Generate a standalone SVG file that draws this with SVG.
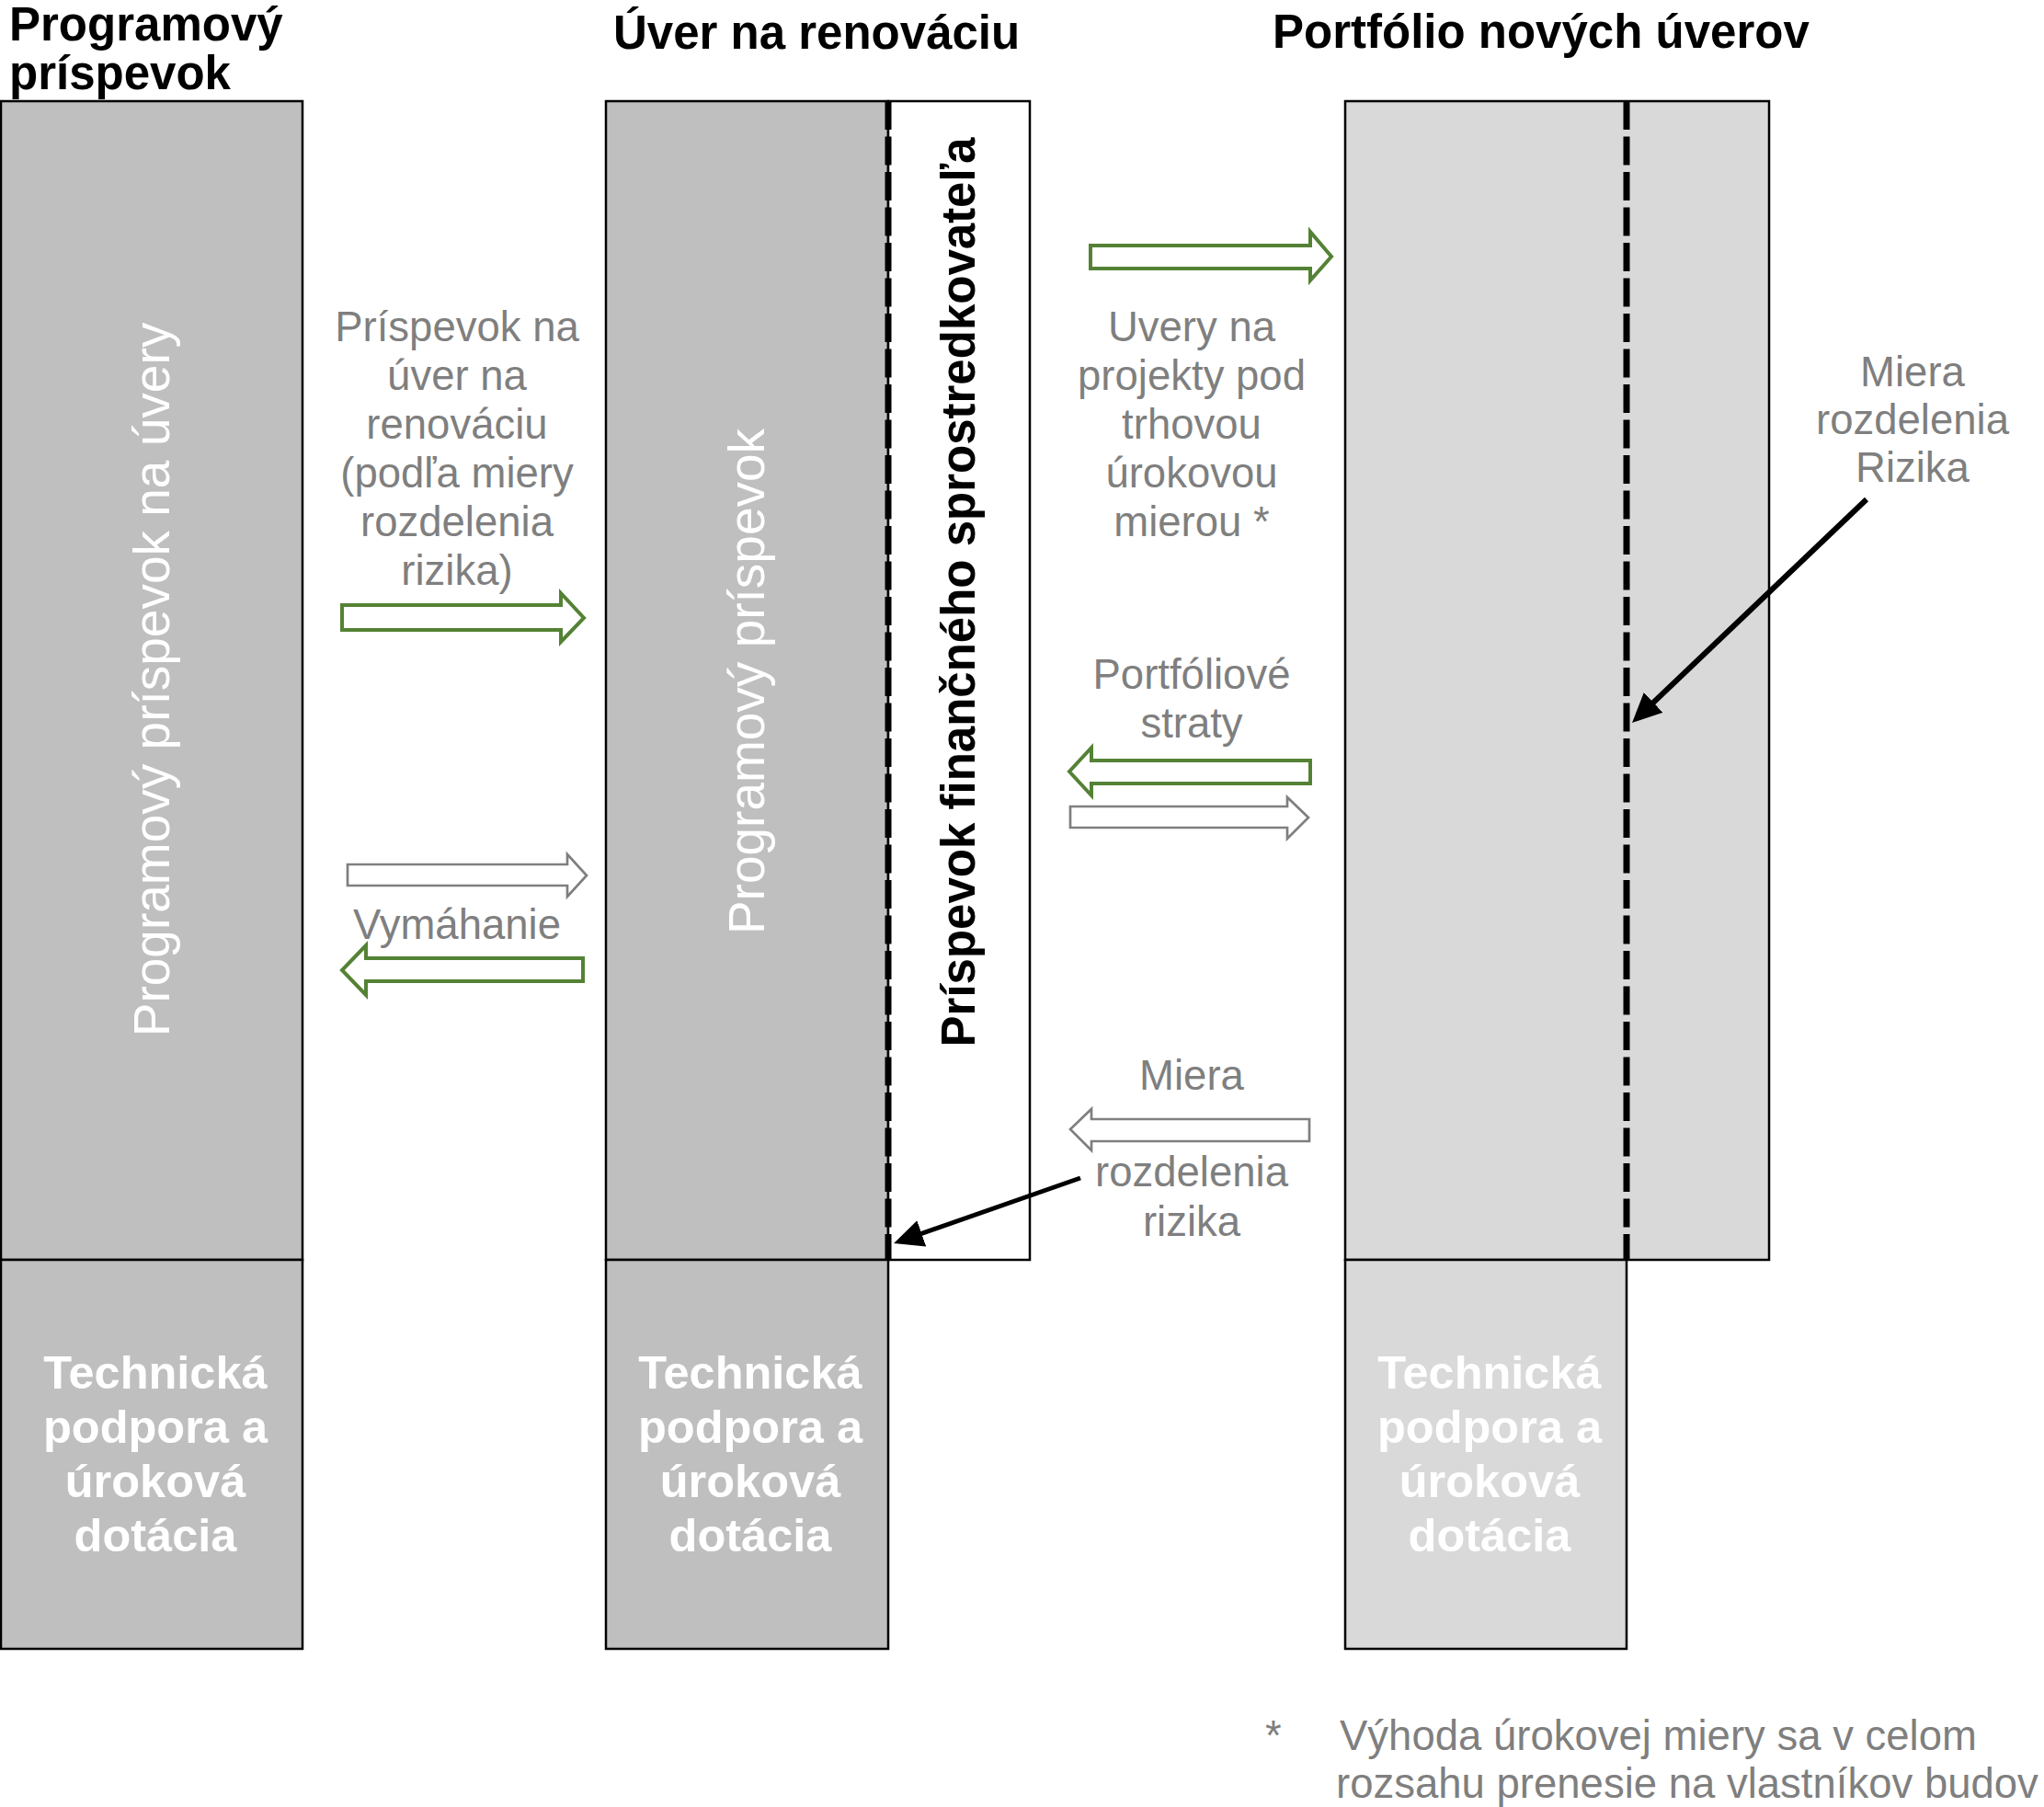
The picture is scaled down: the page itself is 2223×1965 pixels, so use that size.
<svg xmlns="http://www.w3.org/2000/svg" width="2223" height="1965" viewBox="0 0 2223 1965">
<style>
  .title{font-family:"Liberation Sans",Arial,sans-serif;font-weight:bold;font-size:51px;fill:#000}
  .lbl{font-family:"Liberation Sans",Arial,sans-serif;font-size:45.5px;fill:#7F7F7F;text-anchor:middle}
  .vwhite{font-family:"Liberation Sans",Arial,sans-serif;font-size:55px;fill:#fff;text-anchor:middle}
  .vbold{font-family:"Liberation Sans",Arial,sans-serif;font-size:51px;font-weight:bold;fill:#000;text-anchor:middle}
  .tech{font-family:"Liberation Sans",Arial,sans-serif;font-size:50.5px;font-weight:bold;fill:#fff;text-anchor:middle}
  .note{font-family:"Liberation Sans",Arial,sans-serif;font-size:45.5px;fill:#7F7F7F}
  .dark{fill:#BFBFBF;stroke:#000;stroke-width:2.5}
  .light{fill:#D9D9D9;stroke:#000;stroke-width:2.5}
  .white{fill:#fff;stroke:#000;stroke-width:2.5}
  .dash{stroke:#000;stroke-width:7;stroke-dasharray:31 7.5;fill:none}
  .garrow{fill:#fff;stroke:#548235;stroke-width:4}
  .gyarrow{fill:#fff;stroke:#7F7F7F;stroke-width:2.7}
  .pointer{stroke:#000;fill:none}
</style>
<defs>
  <marker id="head" markerUnits="userSpaceOnUse" markerWidth="32" markerHeight="30" refX="12" refY="15" orient="auto">
    <path d="M0,0 L32,15 L0,30 Z" fill="#000"/>
  </marker>
</defs>
<rect width="2223" height="1965" fill="#fff"/>

<g id="title-programovy">
  <text class="title" x="10" y="44">Programový</text>
  <text class="title" x="10" y="97">príspevok</text>
</g>
<g id="title-uver">
  <text class="title" x="667" y="53">Úver na renováciu</text>
</g>
<g id="title-portfolio">
  <text class="title" x="1384" y="52">Portfólio nových úverov</text>
</g>

<g id="node-left-top">
  <rect class="dark" x="1" y="110" width="328" height="1260"/>
  <text class="vwhite" transform="translate(184,739) rotate(-90)">Programový príspevok na úvery</text>
</g>
<g id="node-left-bottom">
  <rect class="dark" x="1" y="1370" width="328" height="423"/>
  <text class="tech" x="169" y="1510">Technická</text>
  <text class="tech" x="169" y="1569">podpora a</text>
  <text class="tech" x="169" y="1628">úroková</text>
  <text class="tech" x="169" y="1687">dotácia</text>
</g>

<g id="node-mid-top">
  <rect class="dark" x="659" y="110" width="307" height="1260"/>
  <text class="vwhite" transform="translate(831,741) rotate(-90)">Programový príspevok</text>
</g>
<g id="node-mid-intermediary">
  <rect class="white" x="966" y="110" width="154" height="1260"/>
  <line class="dash" x1="966" y1="110" x2="966" y2="1370"/>
  <text class="vbold" transform="translate(1060,644) rotate(-90)">Príspevok finančného sprostredkovateľa</text>
</g>
<g id="node-mid-bottom">
  <rect class="dark" x="659" y="1370" width="307" height="423"/>
  <text class="tech" x="816" y="1510">Technická</text>
  <text class="tech" x="816" y="1569">podpora a</text>
  <text class="tech" x="816" y="1628">úroková</text>
  <text class="tech" x="816" y="1687">dotácia</text>
</g>

<g id="node-right-top">
  <rect class="light" x="1463" y="110" width="461" height="1260"/>
  <line class="dash" x1="1769" y1="110" x2="1769" y2="1370"/>
</g>
<g id="node-right-bottom">
  <rect class="light" x="1463" y="1370" width="306" height="423"/>
  <text class="tech" x="1620" y="1510">Technická</text>
  <text class="tech" x="1620" y="1569">podpora a</text>
  <text class="tech" x="1620" y="1628">úroková</text>
  <text class="tech" x="1620" y="1687">dotácia</text>
</g>

<g id="connectors">
  <path class="garrow" d="M372,658 H610 V645 L635,672 L610,698 V685 H372 Z"/>
  <path class="gyarrow" d="M378,940 H617 V929 L638,952 L617,975 V963 H378 Z"/>
  <path class="garrow" d="M634,1042 H398 V1028 L372,1055 L398,1082 V1067 H634 Z"/>
  <path class="garrow" d="M1186,267 H1425 V252 L1448,279 L1425,305 V292 H1186 Z"/>
  <path class="garrow" d="M1425,827 H1187 V813 L1163,839 L1187,865 V852 H1425 Z"/>
  <path class="gyarrow" d="M1164,877 H1400 V867 L1423,889 L1400,912 V900 H1164 Z"/>
  <path class="gyarrow" d="M1424,1217 H1187 V1206 L1164,1228 L1187,1251 V1241 H1424 Z"/>
  <line class="pointer" stroke-width="5" x1="1175" y1="1281" x2="991" y2="1345.4" marker-end="url(#head)"/>
  <line class="pointer" stroke-width="6" x1="2030" y1="543" x2="1789.5" y2="772.2" marker-end="url(#head)"/>
</g>

<g id="label-prispevok">
  <text class="lbl" x="497" y="371">Príspevok na</text>
  <text class="lbl" x="497" y="424">úver na</text>
  <text class="lbl" x="497" y="477">renováciu</text>
  <text class="lbl" x="497" y="530">(podľa miery</text>
  <text class="lbl" x="497" y="583">rozdelenia</text>
  <text class="lbl" x="497" y="636">rizika)</text>
</g>
<g id="label-vymahanie">
  <text class="lbl" x="497" y="1021">Vymáhanie</text>
</g>
<g id="label-uvery">
  <text class="lbl" x="1296" y="371">Uvery na</text>
  <text class="lbl" x="1296" y="424">projekty pod</text>
  <text class="lbl" x="1296" y="477">trhovou</text>
  <text class="lbl" x="1296" y="530">úrokovou</text>
  <text class="lbl" x="1296" y="583">mierou *</text>
</g>
<g id="label-straty">
  <text class="lbl" x="1296" y="749">Portfóliové</text>
  <text class="lbl" x="1296" y="802">straty</text>
</g>
<g id="label-miera-mid">
  <text class="lbl" x="1296" y="1185">Miera</text>
  <text class="lbl" x="1296" y="1290">rozdelenia</text>
  <text class="lbl" x="1296" y="1344">rizika</text>
</g>
<g id="label-miera-right">
  <text class="lbl" x="2080" y="420">Miera</text>
  <text class="lbl" x="2080" y="472">rozdelenia</text>
  <text class="lbl" x="2080" y="524">Rizika</text>
</g>
<g id="footnote">
  <text class="note" x="1376" y="1903">*</text>
  <text class="note" x="1457" y="1903">Výhoda úrokovej miery sa v celom</text>
  <text class="note" x="1453" y="1955">rozsahu prenesie na vlastníkov budov</text>
</g>
</svg>
